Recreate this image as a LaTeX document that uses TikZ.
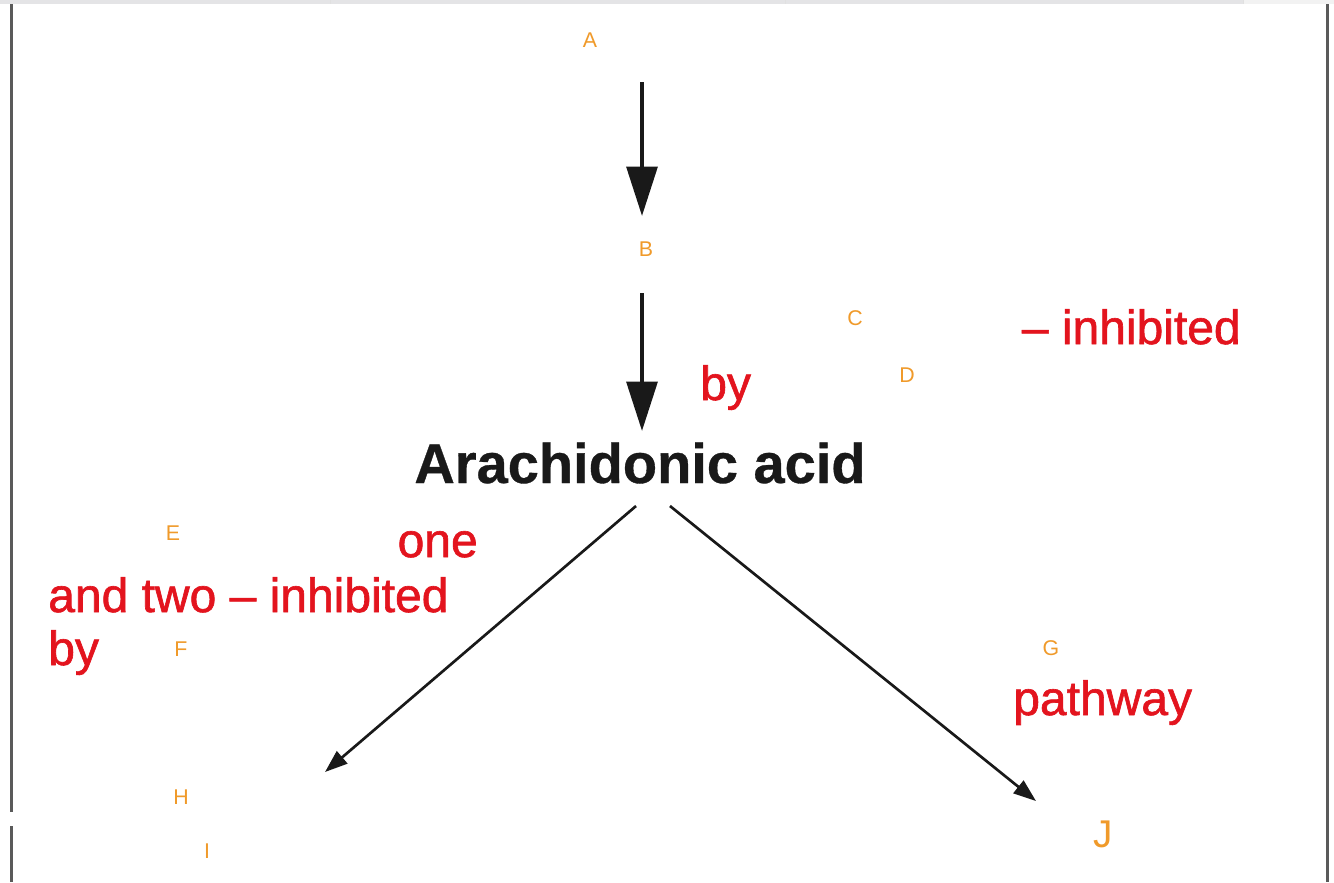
\documentclass[tikz,border=0pt]{standalone}
\usepackage{fontspec}
\setmainfont{Liberation Sans}
\newfontfamily\medfont[FakeBold=1.3]{Liberation Sans}
\newfontfamily\heavyfont[FakeBold=0.6]{Liberation Sans Bold}
\usetikzlibrary{arrows.meta}
\definecolor{redtxt}{HTML}{E3141E}
\definecolor{lbl}{HTML}{F09A2A}
\definecolor{frame}{HTML}{5A5A5A}
\definecolor{strip}{HTML}{E4E4E6}
\tikzset{
  redtext/.style={text=redtxt, font=\medfont\fontsize{36}{40}\selectfont, inner sep=0pt, anchor=base west},
  lab/.style={text=lbl, font=\fontsize{16}{18}\selectfont, inner sep=0pt},
  bigarrow/.style={line width=3pt, draw=black!90, -{Triangle[length=37pt,width=23pt]}},
  thinarrow/.style={line width=2pt, draw=black!90, -{Triangle[length=17pt,width=12pt]}},
}
\begin{document}
\begin{tikzpicture}[x=0.75pt,y=-0.75pt]
\useasboundingbox (0,0) rectangle (1334,882);
\fill[white] (0,0) rectangle (1334,882);
% top strip and frame
\fill[strip] (0,0) rectangle (1243,4);
\fill[black!5] (1243,0) rectangle (1334,4);
\draw[black!12, line width=0.75pt] (330,0) -- (330,4) (785,0) -- (785,4) (1243,0) -- (1243,4);
\draw[frame, line width=1.6pt] (11.5,4) -- (11.5,812) (11.5,826) -- (11.5,882);
\draw[frame, line width=1.6pt] (1327.5,4) -- (1327.5,882);
% labels
\node[lab] (A) at (590,40) {A};
\node[lab] (B) at (646,249) {B};
\node[lab] (C) at (855,318) {C};
\node[lab] (D) at (907,375) {D};
\node[lab] (E) at (173,533) {E};
\node[lab] (F) at (181,649) {F};
\node[lab] (G) at (1051,648) {G};
\node[lab] (H) at (181,797) {H};
\node[lab] (I) at (207,851) {I};
\node[lab, font=\fontsize{29}{32}\selectfont] (J) at (1103,834) {J};
% red texts
\node[redtext, anchor=base east] (inh1) at (1241,344) {– inhibited};
\node[redtext] (by1) at (700,400) {by};
\node[redtext, anchor=base east] (one) at (478,557) {one};
\node[redtext] (andtwo) at (48,612) {and two – inhibited};
\node[redtext] (by2) at (48,665) {by};
\node[redtext] (pathway) at (1013,715) {pathway};
% main node
\node[font=\heavyfont\fontsize{42}{46}\selectfont, text=black!90, inner sep=0pt, anchor=base] (aa) at (640,483) {Arachidonic acid};
% connector ends
\coordinate (a1s) at (642,82);
\coordinate (a1e) at (642,216);
\coordinate (a2s) at (642,293);
\coordinate (a2e) at (642,431);
\coordinate (l1s) at (636,506);
\coordinate (l1e) at (325,772);
\coordinate (r1s) at (670,506);
\coordinate (r1e) at (1036,801);
\draw[bigarrow] (a1s) -- (a1e);
\draw[bigarrow] (a2s) -- (a2e);
\draw[thinarrow] (l1s) -- (l1e);
\draw[thinarrow] (r1s) -- (r1e);
\end{tikzpicture}
\end{document}
